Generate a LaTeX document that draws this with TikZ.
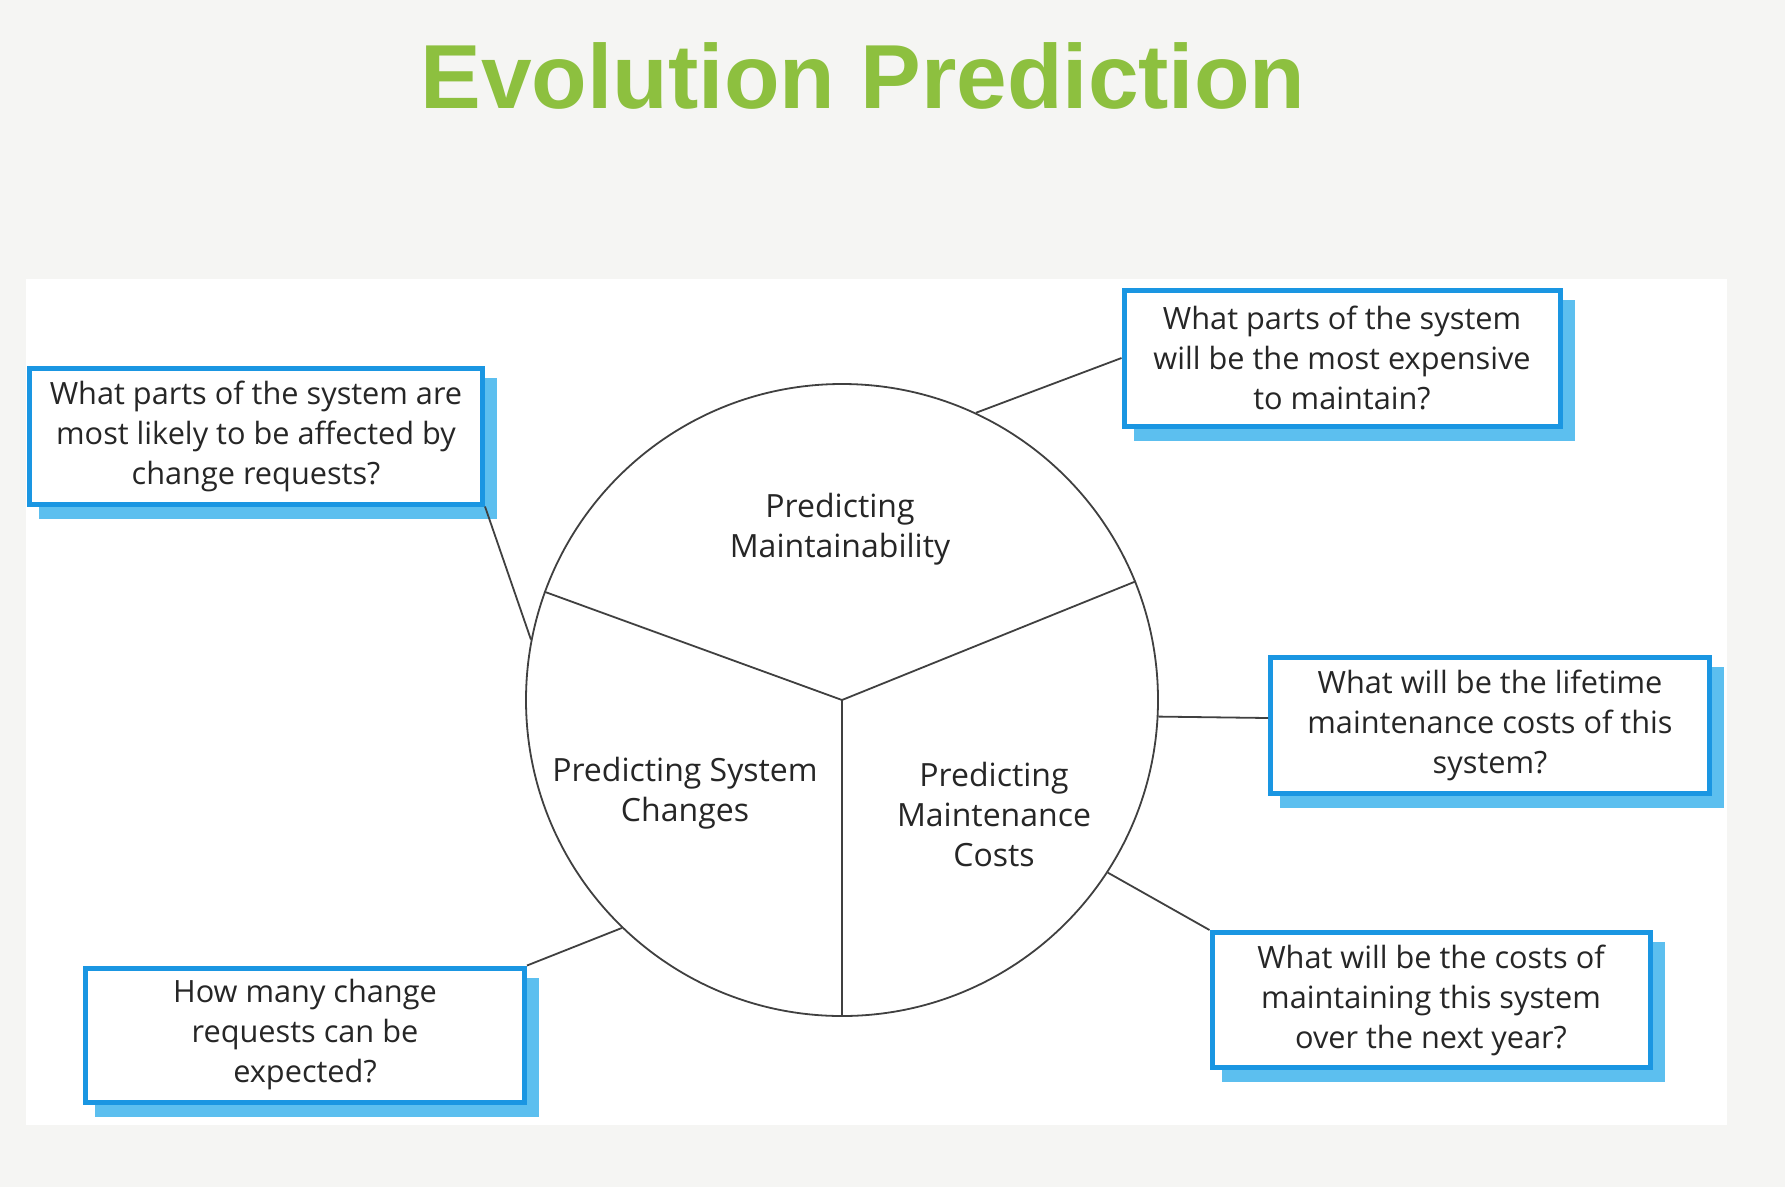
\documentclass[tikz,border=0pt]{standalone}
\usepackage{fontspec}
\setmainfont{Open Sans}
\newfontfamily\titlefont{Liberation Sans}
\usetikzlibrary{backgrounds}
\definecolor{pagebg}{HTML}{F5F5F3}
\definecolor{titlegreen}{HTML}{8DC03F}
\definecolor{boxblue}{HTML}{1A96E2}
\definecolor{shadowblue}{HTML}{5CBFEF}
\definecolor{ink}{HTML}{262626}
\definecolor{linegray}{HTML}{404040}
\newcommand{\qfont}{\fontsize{30.7}{40}\selectfont}
\newcommand{\sfontsize}{\fontsize{32}{40}\selectfont}
\begin{document}
\begin{tikzpicture}[x=1pt,y=-1pt,
  qbox/.style={draw=boxblue, line width=5pt, fill=white, align=center,
    text=ink, font=\qfont, inner sep=0pt, minimum height=136pt},
  sector/.style={align=center, text=ink, font=\sfontsize},
  wire/.style={draw=linegray, line width=1.8pt},
  boxshadow/.style={fill=shadowblue}]
\useasboundingbox (0,0) rectangle (1785,1187);

% page and white panel
\begin{scope}[on background layer]
  \fill[pagebg] (0,0) rectangle (1785,1187);
  \fill[white] (26,279) rectangle (1727,1125);
\end{scope}

% title
\node[font=\titlefont\bfseries\fontsize{91}{100}\selectfont, text=titlegreen,
  anchor=base] (title) at (863,108) {Evolution Prediction};

% circle with three sectors
\node[circle, draw=linegray, line width=1.8pt, minimum size=632pt, inner sep=0pt] (c) at (842,700) {};
\draw[wire] (c.center) -- (c.160);
\draw[wire] (c.center) -- (c.22);
\draw[wire] (c.center) -- (c.270);

\node[sector] (s1) at (840,529) {Predicting\\Maintainability};
\node[sector] (s2) at (685,793) {Predicting System\\Changes};
\node[sector] (s3) at (994,814) {Predicting\\Maintenance\\Costs};

% question boxes
\node[qbox, minimum width=453pt] (b1) at (256,436)
  {What parts of the system are\\most likely to be affected by\\change requests?};
\node[qbox, minimum width=436pt] (b2) at (1342,358)
  {What parts of the system\\will be the most expensive\\to maintain?};
\node[qbox, minimum width=439pt] (b3) at (1490,725)
  {What will be the lifetime\\maintenance costs of this\\system?};
\node[qbox, minimum width=439pt, minimum height=134pt] (b4) at (305,1035)
  {How many change\\requests can be\\expected?};
\node[qbox, minimum width=438pt, minimum height=135pt] (b5) at (1431,1000)
  {What will be the costs of\\maintaining this system\\over the next year?};

% shadows behind the boxes
\begin{scope}[on background layer]
  \foreach \b in {b1,b2,b3,b4,b5}
    \fill[boxshadow] ([shift={(12,12)}]\b.north west) rectangle ([shift={(12,12)}]\b.south east);
\end{scope}

% connectors
\draw[wire] (b1.south east) -- (c.169);
\draw[wire] (b2.west) -- (c.65);
\draw[wire] (b3.west |- 0,718) -- (c.-3);
\draw[wire] (b4.north east) -- (c.226);
\draw[wire] (b5.north west) -- (c.-33);
\end{tikzpicture}
\end{document}
